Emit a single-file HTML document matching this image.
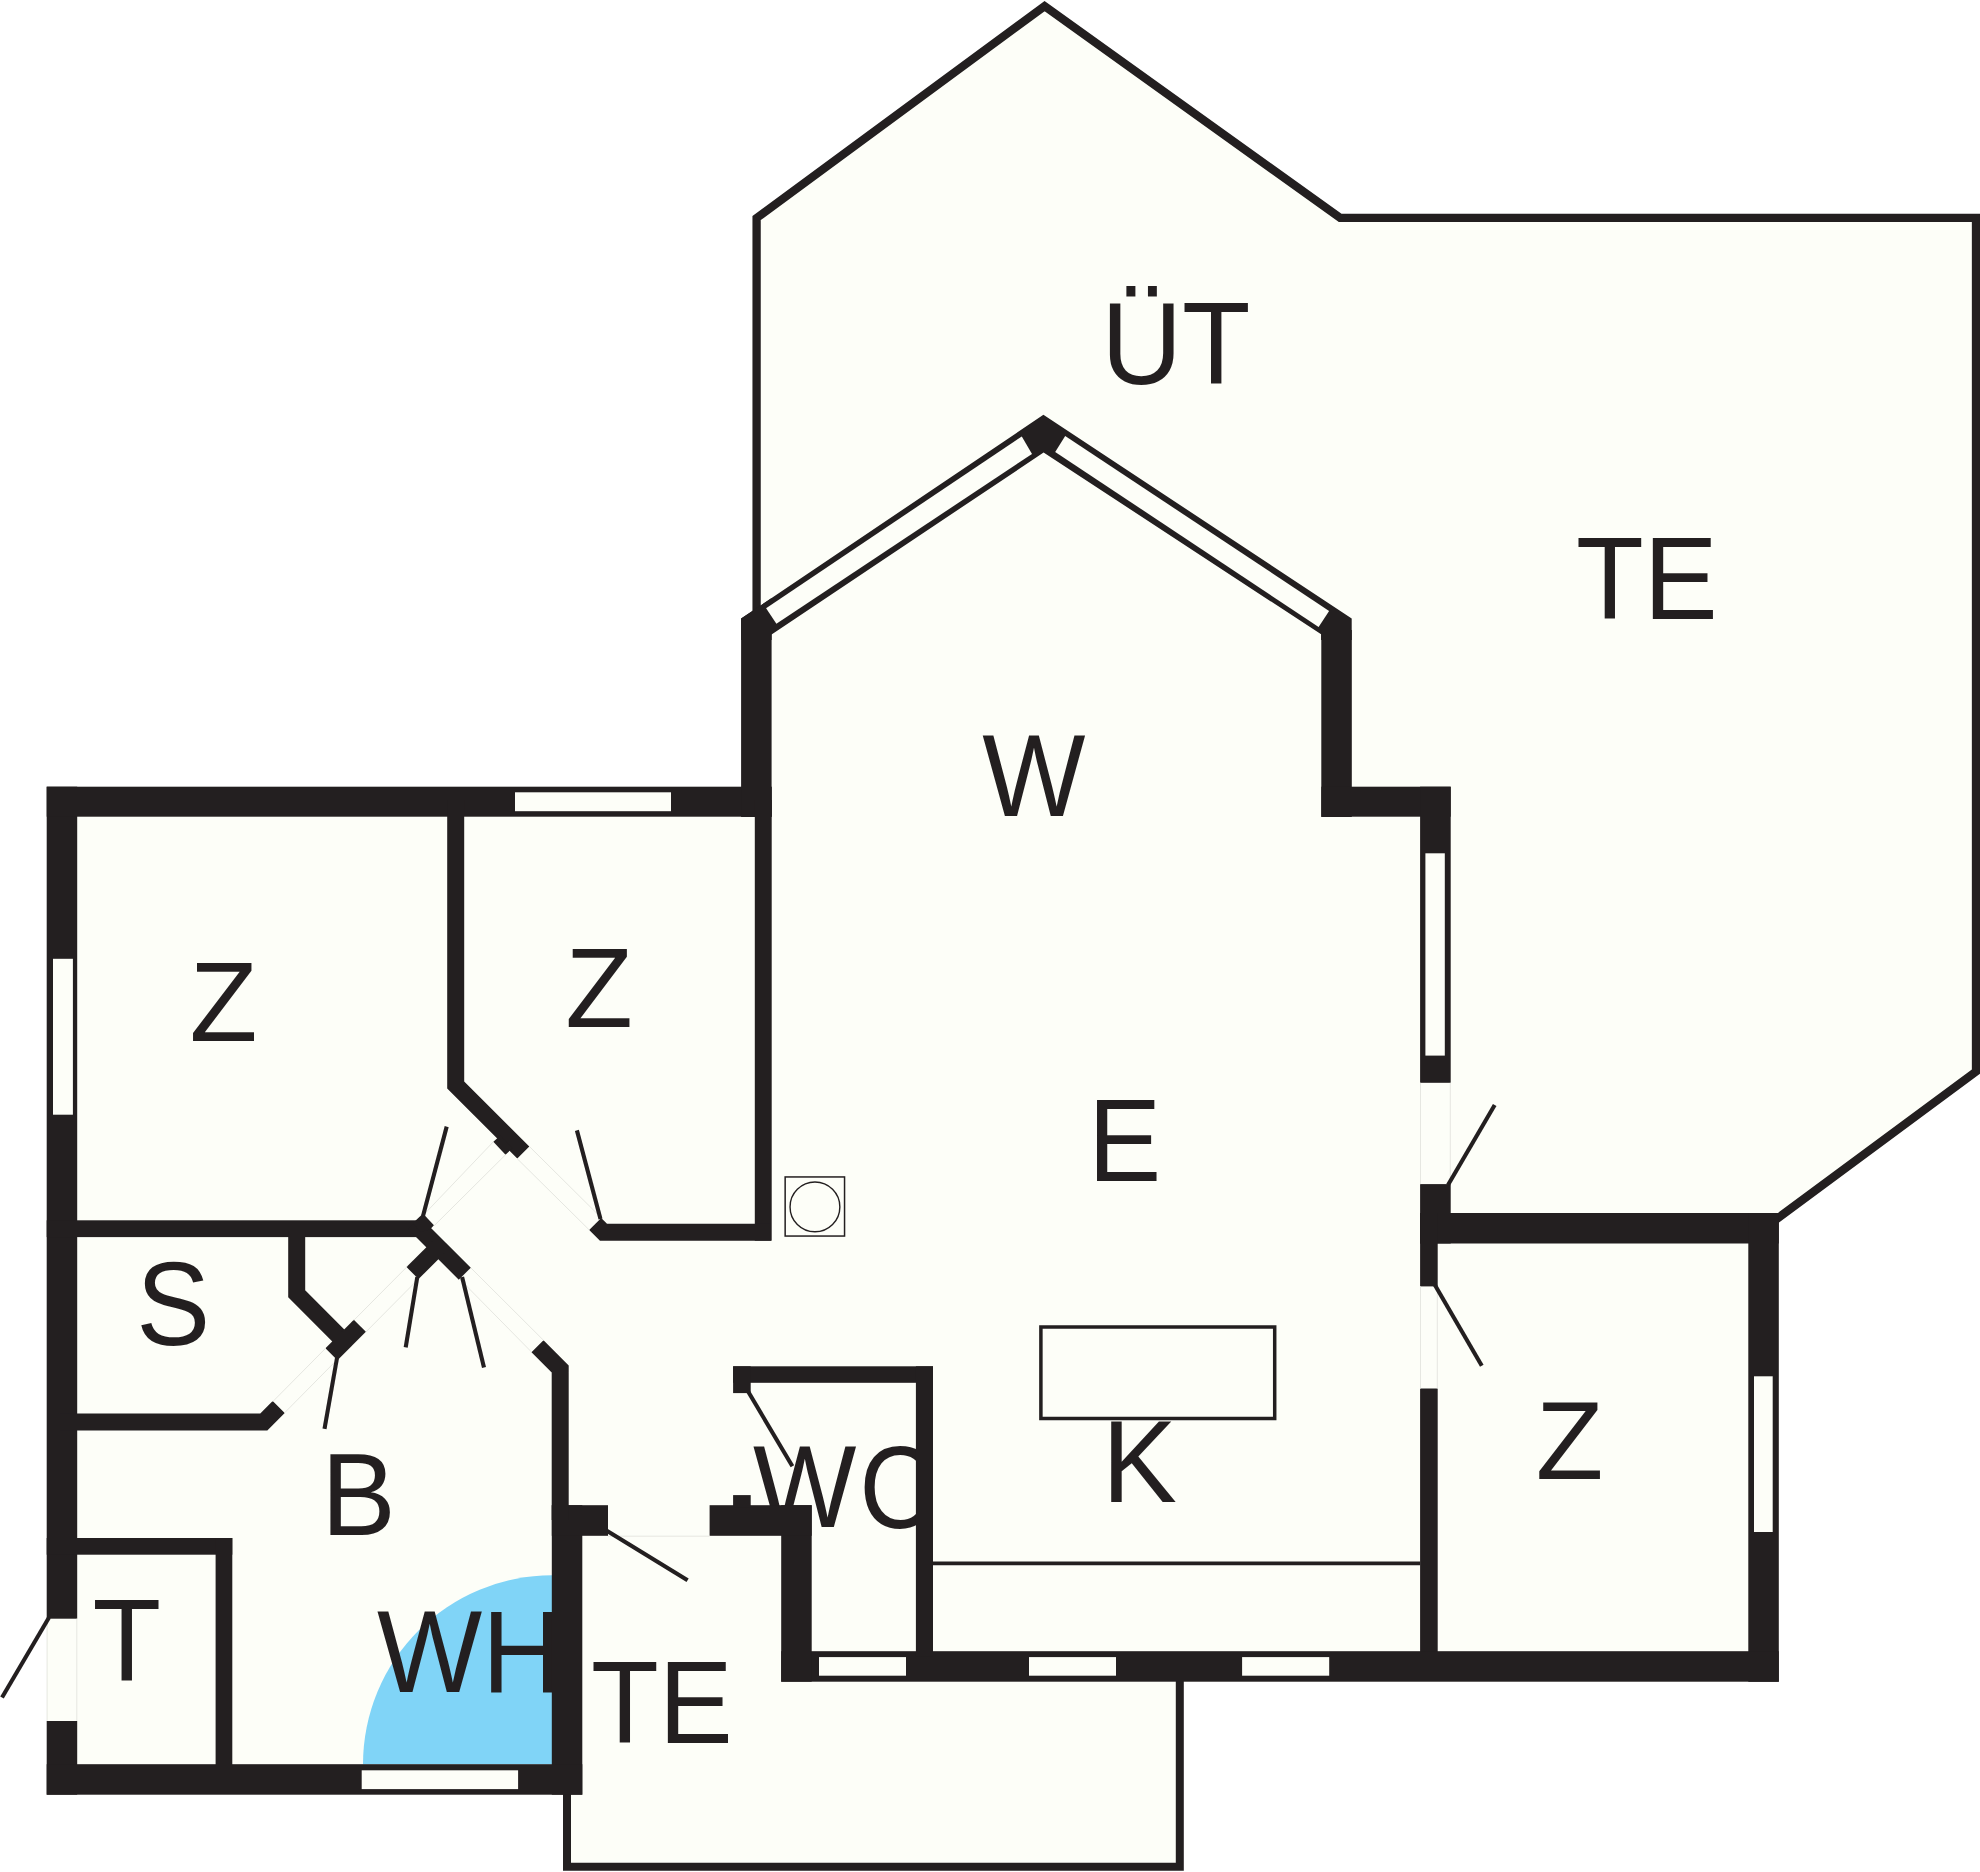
<!DOCTYPE html>
<html><head><meta charset="utf-8"><title>Floor plan</title>
<style>html,body{margin:0;padding:0;background:#fff;}svg{display:block;}text{font-family:"Liberation Sans",sans-serif;fill:#231f20;font-kerning:none;}</style>
</head><body>
<svg width="1980" height="1872" viewBox="0 0 1980 1872">
<rect width="1980" height="1872" fill="#ffffff"/>
<g fill="#fdfef8">
<polygon points="756.6,640 756.6,218 1044.6,6.15 1340.15,217.85 1976,217.85 1985,217.85 1985,1064.8 1976,1071.5 1779,1217.3 1779,1300 756.6,1300"/>
<polygon points="47,787 771,787 771,618 1044,420 1322,620 1322,787 1451,787 1451,1213 1779,1213 1779,1682 782,1682 782,1535 582,1535 582,1795 47,1795"/>
<polygon points="567,1530 790,1530 790,1675 1179.8,1675 1179.8,1866.7 567,1866.7"/>
</g>
<path d="M552,1575.3 A189,189 0 0 0 363,1764.3 L552,1764.3 Z" fill="#80d4f7"/>
<g>
<text transform="translate(1101.15,383.50) scale(0.9580,1)" font-size="117.01">ÜT</text>
<text transform="translate(1576.01,619.00) scale(0.9481,1)" font-size="117.01">TE</text>
<text transform="translate(982.32,815.80) scale(0.9373,1)" font-size="116.72">W</text>
<text transform="translate(189.47,1041.30) scale(0.9910,1)" font-size="112.36">Z</text>
<text transform="translate(565.28,1026.80) scale(0.9836,1)" font-size="112.65">Z</text>
<text transform="translate(1535.68,1479.00) scale(0.9887,1)" font-size="112.07">Z</text>
<text transform="translate(1087.99,1180.70) scale(0.9359,1)" font-size="117.30">E</text>
<text transform="translate(136.17,1345.35) scale(0.9397,1)" font-size="117.94">S</text>
<text transform="translate(321.33,1534.80) scale(0.9554,1)" font-size="117.01">B</text>
<text transform="translate(92.48,1680.80) scale(0.9586,1)" font-size="117.15">T</text>
<text transform="translate(376.91,1692.20) scale(0.9490,1)" font-size="117.44">WH</text>
<text transform="translate(591.01,1742.80) scale(0.9505,1)" font-size="116.72">TE</text>
<text transform="translate(752.92,1527.30) scale(0.9359,1)" font-size="117.01">W</text>
<text transform="translate(859.13,1527.76) scale(0.9025,1)" font-size="117.23">C</text>
<text transform="translate(1102.09,1502.40) scale(0.9593,1)" font-size="117.01">K</text>
</g>
<g fill="none" stroke="#231f20" stroke-width="8.3" stroke-linejoin="miter" stroke-miterlimit="10">
<path d="M756.6,625 L756.6,218 L1044.6,6.15 L1340.15,217.85 L1976,217.85 L1976,1071.5 L1771,1223.2"/>
<path d="M567,1790 L567,1866.7 L1179.8,1866.7 L1179.8,1675" stroke-width="8"/>
</g>
<g fill="#231f20">
<rect x="46.7" y="786.7" width="30.5" height="832"/>
<rect x="46.7" y="1721" width="30.5" height="73.7"/>
<rect x="46.7" y="786.7" width="725.1" height="30"/>
<polygon points="741.1,817 741.1,618.6 771.6,598 771.6,817"/>
<rect x="754.8" y="800" width="16.9" height="440.7"/>
<polygon points="741.1,618.6 1043.4,414.8 1351.7,618.4 1351.7,640 1321.1,640 1321.1,634.3 1043.6,452.5 771.6,634.5 771.6,640 741.1,640"/>
<rect x="1321.3" y="630" width="30.5" height="187"/>
<rect x="1321.3" y="786.7" width="129.4" height="30"/>
<rect x="1420.1" y="786.7" width="30.6" height="296.1"/>
<rect x="1420.1" y="1184.1" width="30.6" height="59.4"/>
<rect x="1420.1" y="1213" width="358.7" height="30.5"/>
<rect x="1748.3" y="1213" width="30.5" height="468.8"/>
<rect x="1420.1" y="1213" width="17.6" height="73.4"/>
<rect x="1420.1" y="1388.5" width="17.6" height="270"/>
<rect x="781.2" y="1651.2" width="997.6" height="30.5"/>
<rect x="781.2" y="1505.2" width="30.5" height="176.5"/>
<rect x="709.6" y="1505.2" width="102.1" height="30.6"/>
<rect x="733.1" y="1495.1" width="17.6" height="12"/>
<rect x="733.1" y="1366.3" width="199.9" height="16.5"/>
<rect x="733.1" y="1366.3" width="17.6" height="26.8"/>
<rect x="915.9" y="1366.3" width="17.1" height="290"/>
<rect x="551.8" y="1505.2" width="30.5" height="289.5"/>
<rect x="551.8" y="1505.2" width="56.2" height="30.6"/>
<rect x="46.7" y="1764.2" width="535.6" height="30.5"/>
<rect x="46.7" y="1538" width="185.6" height="16.7"/>
<rect x="215.6" y="1538" width="16.7" height="230"/>
<rect x="46.7" y="1220.3" width="372" height="16.8"/>
</g>
<g fill="none" stroke="#231f20" stroke-width="17" stroke-linejoin="miter" stroke-linecap="butt" stroke-miterlimit="10">
<path d="M455.7,800 L455.7,1085 L523.3,1152.6"/>
<path d="M595.2,1223.9 L603.5,1232.2 L771,1232.2"/>
<path d="M414,1222.9 L464.8,1273.7"/>
<path d="M438.4,1247.3 L412.5,1273.1"/>
<path d="M296.7,1230 L296.7,1293.8 L344.3,1341.4"/>
<path d="M359.85,1325.85 L331.45,1354.25"/>
<path d="M60,1422 L263.8,1422 L278.7,1407.1"/>
<path d="M537.5,1346.2 L560.2,1368.9 L560.2,1520"/>
</g>
<g fill="#231f20">
<polygon points="500.5,1135.5 493.3,1141.8 505.5,1154.8 512.5,1148"/>
<polygon points="413,1223 422.3,1214.2 425.3,1216 433.9,1225.3 430,1229.5 420,1232"/>
</g>
<g fill="#fdfef8">
<rect x="53" y="958.8" width="19.9" height="155.9"/>
<rect x="515" y="792.3" width="156" height="18.9"/>
<rect x="1425.4" y="853.3" width="19.4" height="202.3"/>
<rect x="1754" y="1376.3" width="18.7" height="155.7"/>
<rect x="819" y="1657.1" width="87" height="18.6"/>
<rect x="1029" y="1657.1" width="87" height="18.6"/>
<rect x="1242.1" y="1657.1" width="87.1" height="18.6"/>
<rect x="361.7" y="1770.3" width="156.4" height="18.8"/>
<polygon points="1021.8,436.4 1032,453.9 776.4,623.8 766.1,608.2"/>
<polygon points="1065.2,436.0 1055.2,451.9 1318.6,627.0 1329.1,610.9"/>
</g>
<rect x="1040.9" y="1327" width="233.8" height="91.5" fill="#fdfef8" stroke="#231f20" stroke-width="3.5"/>
<line x1="933" y1="1563.4" x2="1420.1" y2="1563.4" stroke="#231f20" stroke-width="3.6"/>
<rect x="785.15" y="1176.95" width="59.4" height="59.1" fill="#fdfef8" stroke="#231f20" stroke-width="1.5"/>
<circle cx="814.95" cy="1206.9" r="24.9" fill="none" stroke="#231f20" stroke-width="1.4"/>
<g fill="none" stroke="#e6e7e1" stroke-width="1">
<path d="M529.3,1146.4 L601,1217.5 M517.3,1158.8 L589.5,1230.2"/>
<path d="M493.3,1141.8 L423.5,1215 M505.5,1154.8 L434.2,1225.7"/>
<path d="M353.8,1320.3 L407,1266.8 M365.9,1332 L418,1279.4"/>
<path d="M325.8,1348.1 L272.7,1401.7 M337.1,1359.7 L284.7,1412.7"/>
<path d="M471,1268 L543.5,1340.3 M459.6,1279 L531.5,1352"/>
<path d="M1420.5,1082.8 V1184.1 M1450.3,1082.8 V1184.1"/>
<path d="M1420.5,1286.4 V1388.5 M1437.3,1286.4 V1388.5"/>
<path d="M47.1,1618.7 V1721 M76.8,1618.7 V1721"/>
<path d="M608,1536.2 H709.6"/>
</g>
<g fill="none" stroke="#231f20" stroke-width="4.1" stroke-linecap="butt">
<path d="M446.7,1126.6 L423.0,1216"/>
<path d="M576.9,1130.4 L600.5,1219"/>
<path d="M417.3,1277 L405.7,1347.4"/>
<path d="M462.1,1277 L484,1367.4"/>
<path d="M337,1358 L324.5,1428.9"/>
<path d="M1494.7,1105 L1448.0,1185" />
<path d="M1434.9,1285 L1481.8,1365.8"/>
<path d="M748.4,1392 L792.4,1466.2"/>
<path d="M606,1530.3 L687.6,1580.3"/>
<path d="M49,1617.5 L2,1697.5"/>
</g>
</svg>
</body></html>
